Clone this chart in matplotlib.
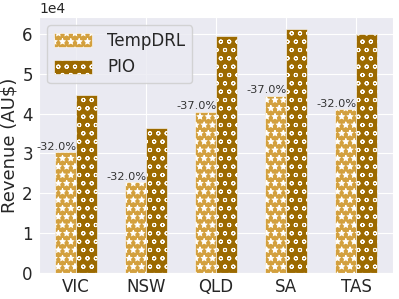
import numpy as np
import matplotlib
matplotlib.use("Agg")
import matplotlib.pyplot as plt
import seaborn as sns

regions = ["VIC", "NSW", "QLD", "SA", "TAS"]
tempdrl = [3.04e4, 2.28e4, 4.05e4, 4.45e4, 4.11e4]
pio = [4.47e4, 3.64e4, 5.96e4, 6.12e4, 5.99e4]
labels = ["-32.0%", "-32.0%", "-37.0%", "-37.0%", "-32.0%"]

sns.set_style("darkgrid")
plt.rcParams['hatch.linewidth'] = 0.7

fig, ax = plt.subplots(figsize=(3.99, 2.99), dpi=100)
x = np.arange(len(regions))
w = 0.3

b1 = ax.bar(x - w / 2, tempdrl, w, color="#d3a03e", edgecolor="white",
            hatch="**", linewidth=0.4, label="TempDRL")
b2 = ax.bar(x + w / 2, pio, w, color="#9c6a00", edgecolor="white",
            hatch="oo", linewidth=0.4, label="PIO")

# percentage labels sit on the TempDRL bars, right-aligned to the group centre
for xi, h, lab in zip(x, tempdrl, labels):
    ax.text(xi + 0.01, h + 100, lab, ha="right", va="bottom",
            fontsize=8.2, color="#333333")

ax.set_ylabel("Revenue (AU$)", fontsize=13, labelpad=3)
ax.set_xticks(x)
ax.set_xticklabels(regions, fontsize=12)
ax.tick_params(axis="y", labelsize=12, pad=1)
ax.tick_params(axis="x", pad=0)
ax.ticklabel_format(axis="y", style="sci", scilimits=(4, 4))
ax.yaxis.get_offset_text().set_fontsize(10)
ax.legend(loc="upper left", fontsize=12, handlelength=2.3, handleheight=0.9,
          handletextpad=0.9)

plt.subplots_adjust(left=0.098, right=0.985, top=0.943, bottom=0.087)
fig.savefig("out.png", dpi=100)
